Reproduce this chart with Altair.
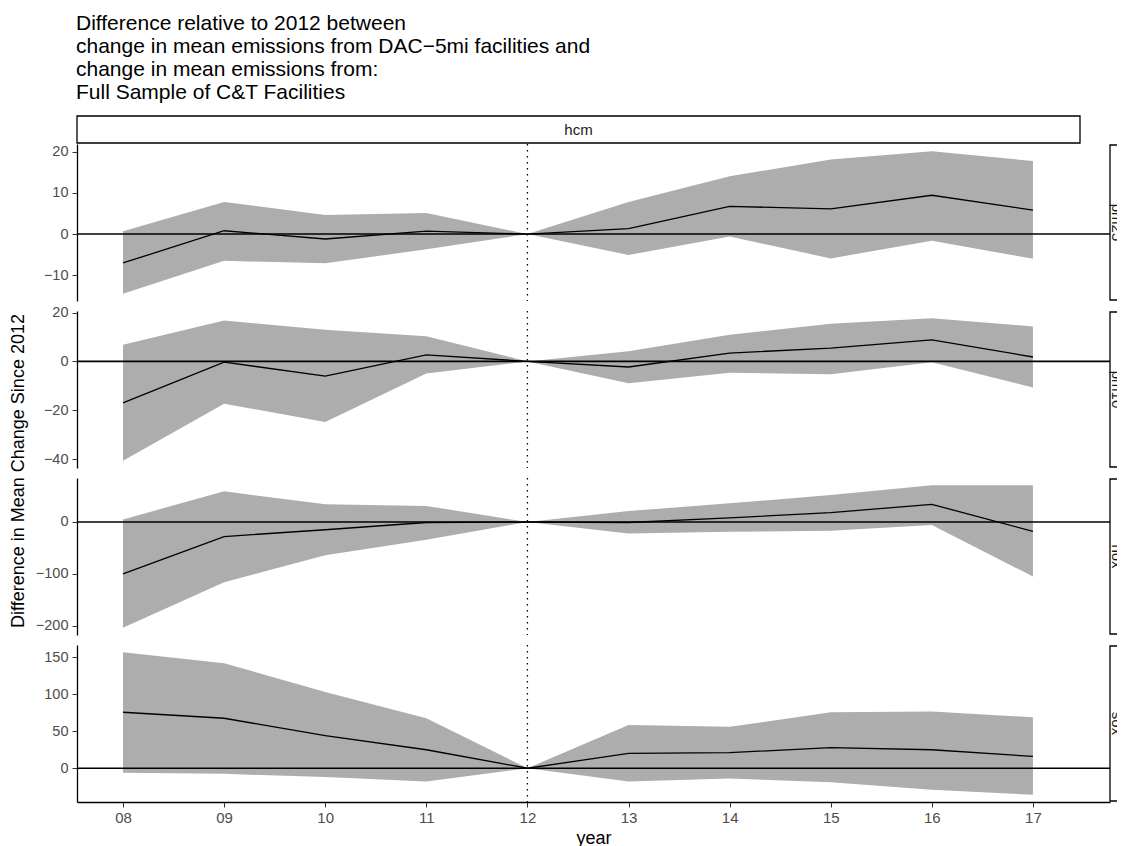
import altair as alt
import pandas as pd

# ---- data ----
years = [8, 9, 10, 11, 12, 13, 14, 15, 16, 17]

pollutants = ["pm25", "pm10", "nox", "sox"]
top_strip = ["hcm"]

pm25_est = [-7.0, 0.8, -1.2, 0.7, 0.0, 1.3, 6.7, 6.1, 9.4, 5.8]
pm25_lo = [-14.5, -6.5, -7.1, -3.7, 0.0, -5.1, -0.6, -5.9, -1.6, -6.0]
pm25_hi = [0.7, 7.8, 4.6, 5.1, 0.0, 7.8, 14.0, 18.1, 20.1, 17.7]

pm10_est = [-17.0, -0.3, -6.0, 2.7, 0.0, -2.3, 3.4, 5.4, 8.8, 1.8]
pm10_lo = [-40.7, -17.3, -24.8, -5.0, 0.0, -8.9, -4.6, -5.3, -0.3, -10.7]
pm10_hi = [6.8, 16.7, 12.9, 10.3, 0.0, 4.2, 10.9, 15.4, 17.7, 14.3]

nox_est = [-100, -28, -15, -1, 0, -1, 8, 18, 34, -18]
nox_lo = [-204, -116, -64, -34, 0, -22, -19, -17, -6, -105]
nox_hi = [5, 59, 34, 31, 0, 21, 36, 52, 71, 71]

sox_est = [75.7, 67.6, 44, 25, 0, 20, 21, 28, 25, 16]
sox_lo = [-6, -7.6, -12, -18, 0, -18, -14, -19, -29, -36]
sox_hi = [157, 142, 103, 67.6, 0, 58.6, 56, 75.7, 76.6, 69]

tick_sets = {
    "pm25": [-10, 0, 10, 20],
    "pm10": [-40, -20, 0, 20],
    "nox": [-200, -100, 0],
    "sox": [0, 50, 100, 150],
}

title_lines = [
    "Difference relative to 2012 between",
    "change in mean emissions from DAC\u22125mi facilities and",
    "change in mean emissions from:",
    "Full Sample of C&T Facilities",
]
y_title = ["Difference in Mean Change Since 2012"]
x_title = "year"
ref_year = [12]
zero_val = [0]

series = {
    "pm25": (pm25_est, pm25_lo, pm25_hi),
    "pm10": (pm10_est, pm10_lo, pm10_hi),
    "nox": (nox_est, nox_lo, nox_hi),
    "sox": (sox_est, sox_lo, sox_hi),
}

# ---- style / layout ----
W = 1033          # data range width (panel 77 -> 1110)
WV = 1040         # view width incl. clipped strip area
H = 157
FONT = "Liberation Sans"
GRAY = "#adadad"

xscale = alt.Scale(domain=[7.545, 17.762], range=[0, W], nice=False, zero=False)


def panel(name, idx):
    est, lo, hi = series[name]
    df = pd.DataFrame({"year": years, "est": est, "lo": lo, "hi": hi})
    dmin, dmax = min(lo), max(hi)
    pad = 0.05 * (dmax - dmin)
    yscale = alt.Scale(domain=[dmin - pad, dmax + pad], nice=False, zero=False)
    bottom = idx == len(pollutants) - 1

    if bottom:
        xaxis = alt.Axis(
            values=years,
            labelExpr="datum.value < 10 ? '0' + datum.value : '' + datum.value",
            title=x_title,
            grid=False,
            domainColor="black",
            domainWidth=1.3,
            tickColor="#333333",
            tickSize=5,
            labelColor="#4d4d4d",
            labelFontSize=15,
            labelFont=FONT,
            labelPadding=3,
            titleFont=FONT,
            titleFontSize=18,
            titleFontWeight="normal",
            titleColor="black",
            titlePadding=4,
        )
    else:
        xaxis = None

    yaxis = alt.Axis(
        values=tick_sets[name],
        title=None,
        grid=False,
        domainColor="black",
        domainWidth=1.3,
        tickColor="#333333",
        tickSize=5,
        labelColor="#4d4d4d",
        labelFontSize=14.5,
        labelFont=FONT,
        labelPadding=4,
    )

    base = alt.Chart(df)
    area = base.mark_area(color=GRAY, opacity=1, interpolate="linear").encode(
        x=alt.X("year:Q", scale=xscale, axis=xaxis),
        y=alt.Y("lo:Q", scale=yscale, axis=yaxis),
        y2="hi:Q",
    )
    line = base.mark_line(color="black", strokeWidth=1.3).encode(
        x=alt.X("year:Q", scale=xscale, axis=xaxis),
        y=alt.Y("est:Q", scale=yscale, axis=yaxis),
    )
    zero = alt.Chart(pd.DataFrame({"v": zero_val})).mark_rule(
        color="black", strokeWidth=1.6
    ).encode(
        y=alt.Y("v:Q", scale=yscale, axis=yaxis),
        x=alt.value(0),
        x2=alt.value(W),
    )
    vline = alt.Chart(pd.DataFrame({"v": ref_year})).mark_rule(
        color="black", strokeWidth=1.3, strokeDash=[1.5, 4.5]
    ).encode(
        x=alt.X("v:Q", scale=xscale, axis=xaxis),
        y=alt.value(0),
        y2=alt.value(H),
    )
    sdf = pd.DataFrame({"label": [name]})
    srect = alt.Chart(sdf).mark_rect(
        fill="white", stroke="black", strokeWidth=1.3, clip=True
    ).encode(x=alt.value(W), x2=alt.value(W + 30), y=alt.value(1), y2=alt.value(H - 1))
    stext = alt.Chart(sdf).mark_text(
        angle=90, align="center", baseline="alphabetic", fontSize=15, font=FONT,
        color="#1a1a1a", clip=True
    ).encode(text="label:N", x=alt.value(W + 2), y=alt.value(H / 2))

    layers = [area, line, zero, vline, srect, stext]

    if idx == 0:
        tdf = pd.DataFrame({"label": top_strip})
        trect = alt.Chart(tdf).mark_rect(
            fill="white", stroke="black", strokeWidth=1.3
        ).encode(x=alt.value(0), x2=alt.value(1003), y=alt.value(-28), y2=alt.value(-1))
        ttext = alt.Chart(tdf).mark_text(
            align="center", baseline="middle", fontSize=15, font=FONT, color="#1a1a1a"
        ).encode(text="label:N", x=alt.value(501.5), y=alt.value(-14))
        layers += [trect, ttext]

    if idx == 1:
        ydf = pd.DataFrame({"label": y_title})
        yt = alt.Chart(ydf).mark_text(
            angle=270, align="center", baseline="middle", fontSize=18, font=FONT, color="black"
        ).encode(text="label:N", x=alt.value(-58), y=alt.value(H + 3))
        layers.append(yt)

    return alt.layer(*layers).properties(width=WV, height=H)


panels = [panel(p, i) for i, p in enumerate(pollutants)]

chart = (
    alt.vconcat(*panels, spacing=10, bounds="flush")
    .properties(
        title=alt.TitleParams(
            text=title_lines,
            anchor="start",
            fontSize=21,
            lineHeight=23,
            font=FONT,
            fontWeight="normal",
            color="black",
            dx=66,
            offset=12,
        ),
        padding={"left": 1, "top": 5, "right": 0, "bottom": 0},
    )
    .configure_view(stroke=None)
    .configure_axis(grid=False)
)

chart.save("out.html", embed_options={"renderer": "svg", "actions": False})
